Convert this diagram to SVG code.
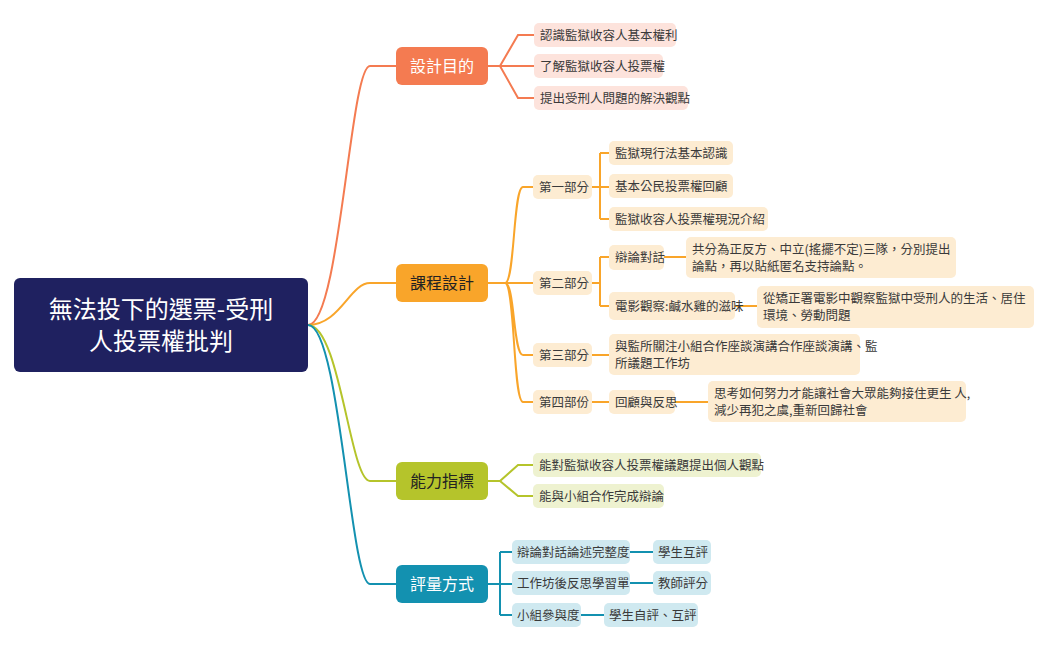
<svg xmlns="http://www.w3.org/2000/svg" width="1050" height="650" viewBox="0 0 1050 650">
<style>
text{font-family:"Noto Sans CJK TC","Noto Sans CJK SC",sans-serif;}
.t{font-size:12.5px;fill:#3a3a3a;}
.m{font-size:16px;}
.c{fill:none;stroke-width:2;}
.r{stroke:#f47b51}.o{stroke:#f9a52a}.g{stroke:#b5c42b}.b{stroke:#1391b0}
.pr{fill:#fde3dc}.po{fill:#fdecd2}.pg{fill:#eef2d0}.pb{fill:#cfe9f0}
</style>
<rect width="1050" height="650" fill="#fff"/>
<g id="connectors">
<path class="c r" d="M308,325 C340,325 350,66 370,66 L396,66"/>
<path class="c o" d="M308,325 C340,325 350,283 370,283 L396,283"/>
<path class="c g" d="M308,325 C340,325 350,481 370,481 L396,481"/>
<path class="c b" d="M308,325 C340,325 350,584 370,584 L396,584"/>
<path class="c r" d="M488,66 L500,66 M500,66 L518,35 L534,35 M500,66 L534,66 M500,66 L518,98 L534,98"/>
<path class="c o" d="M488,283 L505,283 M505,283 C515,283 513,187 523,187 L533,187 M505,283 L533,283 M505,283 C515,283 513,355 523,355 L533,355 M505,283 C515,283 513,402 523,402 L533,402"/>
<path class="c o" d="M592,187 L600,187 M600,153 L600,219 M600,153 L609,153 M600,219 L609,219 M600,187 L609,187"/>
<path class="c o" d="M592,283 L600,283 M600,257 L600,306 M600,257 L609,257 M600,306 L609,306"/>
<path class="c o" d="M664,257 L686,257 M735,306 L757,306 M592,355 L609,355 M592,402 L609,402 M675,402 L708,402"/>
<path class="c g" d="M488,481 L500,481 L518,465 L533,465 M500,481 L518,496 L533,496"/>
<path class="c b" d="M488,584 L500,584 M500,552 L500,615 M500,552 L512,552 M500,615 L512,615 M500,584 L512,584"/>
<path class="c b" d="M630,552 L653,552 M630,583 L653,583 M581,615 L604,615"/>
</g>
<g id="root"><rect x="14" y="278" width="294" height="94" rx="6" fill="#1f2160"/>
<text x="161" y="318" font-size="24" fill="#fff" text-anchor="middle">無法投下的選票-受刑</text>
<text x="161" y="350" font-size="24" fill="#fff" text-anchor="middle">人投票權批判</text></g>
<g id="n1"><rect x="396" y="47" width="92" height="38" rx="6" fill="#f47b51"/><text class="m" x="442" y="72" fill="#fff" text-anchor="middle">設計目的</text></g>
<g id="n2"><rect x="396" y="264" width="92" height="38" rx="6" fill="#f9a52a"/><text class="m" x="442" y="289" fill="#222" text-anchor="middle">課程設計</text></g>
<g id="n3"><rect x="396" y="462" width="92" height="38" rx="6" fill="#b5c42b"/><text class="m" x="442" y="487" fill="#222" text-anchor="middle">能力指標</text></g>
<g id="n4"><rect x="396" y="565" width="92" height="38" rx="6" fill="#1391b0"/><text class="m" x="442" y="590" fill="#fff" text-anchor="middle">評量方式</text></g>
<g id="a1"><rect class="pr" x="534" y="23" width="142" height="24" rx="5"/><text class="t" x="540" y="40">認識監獄收容人基本權利</text></g>
<g id="a2"><rect class="pr" x="534" y="54" width="129" height="24" rx="5"/><text class="t" x="540" y="71">了解監獄收容人投票權</text></g>
<g id="a3"><rect class="pr" x="534" y="86" width="154" height="24" rx="5"/><text class="t" x="540" y="103">提出受刑人問題的解決觀點</text></g>
<g id="b1"><rect class="po" x="533" y="175" width="59" height="24" rx="5"/><text class="t" x="539" y="192">第一部分</text></g>
<g id="b2"><rect class="po" x="533" y="271" width="59" height="24" rx="5"/><text class="t" x="539" y="288">第二部分</text></g>
<g id="b3"><rect class="po" x="533" y="343" width="59" height="24" rx="5"/><text class="t" x="539" y="360">第三部分</text></g>
<g id="b4"><rect class="po" x="533" y="390" width="59" height="24" rx="5"/><text class="t" x="539" y="407">第四部份</text></g>
<g id="c1"><rect class="po" x="609" y="141" width="124" height="24" rx="5"/><text class="t" x="615" y="158">監獄現行法基本認識</text></g>
<g id="c2"><rect class="po" x="609" y="174" width="124" height="24" rx="5"/><text class="t" x="615" y="191">基本公民投票權回顧</text></g>
<g id="c3"><rect class="po" x="609" y="207" width="159" height="24" rx="5"/><text class="t" x="615" y="224">監獄收容人投票權現況介紹</text></g>
<g id="c4"><rect class="po" x="609" y="245" width="55" height="25" rx="5"/><text class="t" x="615" y="262">辯論對話</text></g>
<g id="c5"><rect class="po" x="609" y="292" width="126" height="28" rx="5"/><text class="t" x="615" y="311" font-size="11.5" fill="#555">電影觀察:鹹水雞的滋味</text></g>
<g id="c6"><rect class="po" x="686" y="237" width="270" height="41" rx="5"/><text class="t" x="692" y="254">共分為正反方、中立(搖擺不定)三隊，分別提出</text><text class="t" x="692" y="271">論點，再以貼紙匿名支持論點。</text></g>
<g id="c7"><rect class="po" x="757" y="286" width="277" height="42" rx="5"/><text class="t" x="763" y="303" font-size="11.5" fill="#555">從矯正署電影中觀察監獄中受刑人的生活、居住</text><text class="t" x="763" y="320" font-size="11.5" fill="#555">環境、勞動問題</text></g>
<g id="c8"><rect class="po" x="609" y="334" width="251" height="41" rx="5"/><text class="t" x="615" y="351">與監所關注小組合作座談演講合作座談演講、監</text><text class="t" x="615" y="368">所議題工作坊</text></g>
<g id="c9"><rect class="po" x="609" y="390" width="66" height="24" rx="5"/><text class="t" x="615" y="407">回顧與反思</text></g>
<g id="c10"><rect class="po" x="708" y="381" width="258" height="41" rx="5"/><text class="t" x="714" y="398">思考如何努力才能讓社會大眾能夠接住更生 人,</text><text class="t" x="714" y="415">減少再犯之虞,重新回歸社會</text></g>
<g id="d1"><rect class="pg" x="533" y="453" width="228" height="24" rx="5"/><text class="t" x="539" y="470">能對監獄收容人投票權議題提出個人觀點</text></g>
<g id="d2"><rect class="pg" x="533" y="484" width="131" height="24" rx="5"/><text class="t" x="539" y="501">能與小組合作完成辯論</text></g>
<g id="e1"><rect class="pb" x="512" y="540" width="118" height="24" rx="5"/><text class="t" x="517" y="557">辯論對話論述完整度</text></g>
<g id="e2"><rect class="pb" x="512" y="571" width="118" height="24" rx="5"/><text class="t" x="517" y="588">工作坊後反思學習單</text></g>
<g id="e3"><rect class="pb" x="512" y="603" width="69" height="24" rx="5"/><text class="t" x="517" y="620">小組參與度</text></g>
<g id="f1"><rect class="pb" x="653" y="540" width="58" height="24" rx="5"/><text class="t" x="658" y="557">學生互評</text></g>
<g id="f2"><rect class="pb" x="653" y="571" width="58" height="24" rx="5"/><text class="t" x="658" y="588">教師評分</text></g>
<g id="f3"><rect class="pb" x="604" y="603" width="94" height="24" rx="5"/><text class="t" x="609" y="620">學生自評、互評</text></g>
</svg>
